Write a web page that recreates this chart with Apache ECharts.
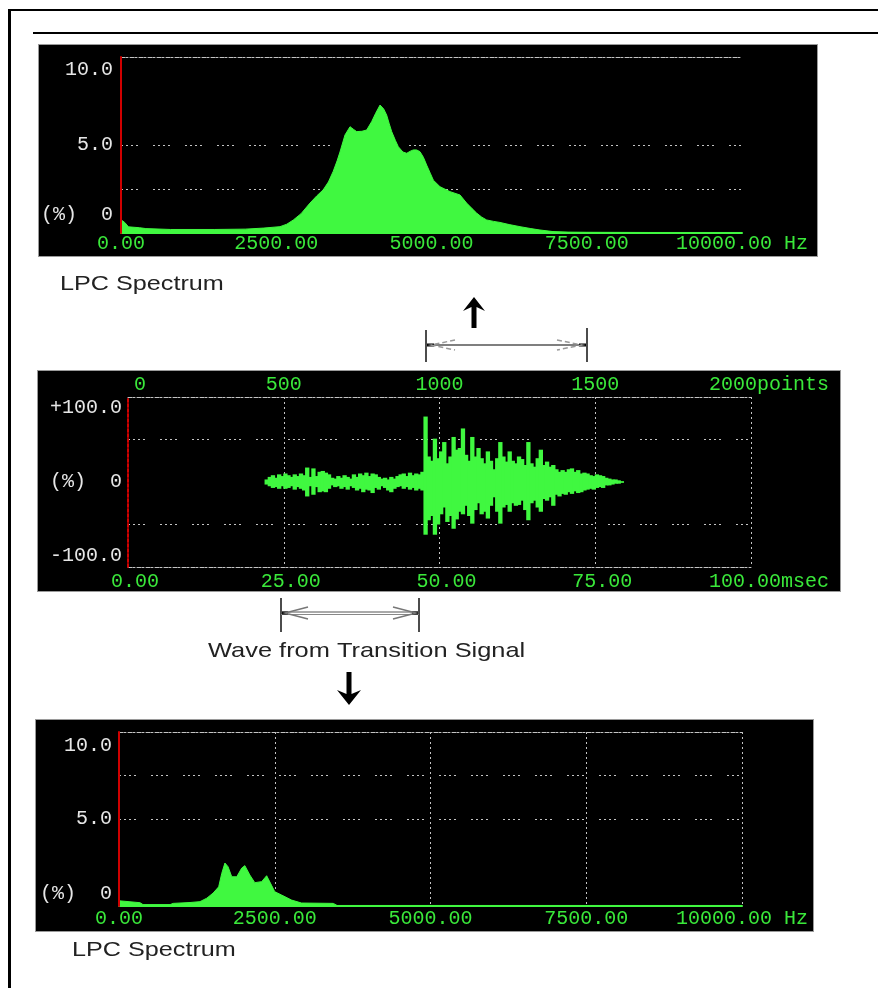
<!DOCTYPE html>
<html><head><meta charset="utf-8">
<script src="https://cdn.jsdelivr.net/npm/echarts@6/dist/echarts.min.js"></script>
<style>
html,body{margin:0;padding:0;background:#fff;}
#wrap{position:relative;width:878px;height:988px;overflow:hidden;background:#fff;}
.panel{position:absolute;background:#000;border:1px solid #9a9a9a;box-sizing:border-box;}
.bar{position:absolute;background:#000;}
#chart{position:absolute;left:0;top:0;width:878px;height:988px;}
</style></head><body>
<div id="wrap">
  <div class="bar" style="left:8px;top:9px;width:3px;height:990px"></div>
  <div class="bar" style="left:8px;top:9px;width:875px;height:2px"></div>
  <div class="bar" style="left:33px;top:32px;width:850px;height:2px"></div>
  <div class="panel" style="left:38px;top:44px;width:780px;height:213px"></div>
  <div class="panel" style="left:37px;top:370px;width:804px;height:222px"></div>
  <div class="panel" style="left:35px;top:719px;width:779px;height:213px"></div>
  <div id="chart"></div>
</div>
<script>
// ---------------- data ----------------
// upper LPC spectrum (frequency in Hz, level in %)
const topSpecHz  = [0,60,120,300,400,800,1500,2000,2300,2560,2670,2775,2900,3043,3150,3255,3340,3417,3480,3526,3607,3688,3740,3795,3880,3956,4037,4100,4171,4230,4278,4320,4359,4420,4466,4540,4601,4660,4707,4760,4815,4870,4922,4980,5030,5137,5298,5459,5566,5650,5727,5810,5888,6000,6103,6250,6425,6600,6747,6956,7200,7500,8500,10000];
const topSpecPct = [0.75,0.6,0.35,0.3,0.25,0.2,0.2,0.22,0.28,0.36,0.5,0.74,1.1,1.7,2.1,2.45,2.9,3.5,4.1,4.6,5.57,6.04,5.9,5.76,5.78,5.85,6.33,6.8,7.27,7.05,6.7,6.2,5.76,5.25,4.9,4.6,4.53,4.65,4.72,4.72,4.62,4.3,3.86,3.4,3.0,2.63,2.35,2.16,1.7,1.4,1.13,0.9,0.74,0.66,0.6,0.48,0.36,0.25,0.17,0.08,0.05,0.04,0.03,0.03];

// lower LPC spectrum
const botSpecHz  = [0,16,337,385,820,870,1140,1300,1410,1510,1600,1650,1700,1750,1810,1890,1970,2020,2100,2180,2290,2370,2430,2500,2610,2770,2930,3440,3500,10000];
const botSpecPct = [0.3,0.2,0.19,0.08,0.08,0.15,0.2,0.25,0.45,0.74,1.1,1.88,2.47,2.26,1.68,1.68,2.18,2.32,1.78,1.34,1.4,1.74,1.32,0.82,0.63,0.34,0.17,0.15,0.03,0.03];

// waveform envelope, one column every 0.5 ms starting at 22.0 ms (upper / lower %)
const waveStartMs = 22.0;
const waveStepMs = 0.5;
const waveHi = [3,6,8,5,9,7,10,8,6,9,7,10,8,17,6,16,7,12,13,11,9,5,4,7,5,8,6,4,9,6,10,8,11,7,10,9,6,4,5,3,6,4,7,9,10,7,11,8,10,9,12,
  77,30,25,51,28,36,47,22,30,53,38,40,63,32,25,53,30,40,28,22,36,25,15,28,47,30,24,36,25,22,30,27,20,47,22,18,28,38,20,24,18,20,15,12,14,12,15,16,12,14,10,11,10,8,7,9,8,7,5,4,3,3,2,1];
const waveLo = [-3,-5,-7,-6,-8,-5,-8,-7,-5,-9,-6,-8,-10,-17,-5,-15,-6,-12,-11,-12,-8,-4,-6,-5,-8,-6,-9,-5,-7,-10,-8,-12,-9,-10,-13,-7,-9,-5,-7,-10,-12,-8,-6,-5,-8,-6,-9,-7,-10,-8,-10,
  -62,-45,-40,-62,-50,-38,-30,-47,-40,-55,-44,-35,-38,-28,-40,-49,-33,-25,-38,-35,-43,-28,-18,-35,-49,-30,-27,-35,-25,-28,-27,-22,-33,-45,-25,-22,-30,-35,-20,-22,-18,-28,-15,-17,-14,-15,-12,-14,-11,-13,-12,-10,-9,-8,-9,-7,-6,-7,-4,-4,-3,-2,-2,-1];

// tick labels
const hzTickValues = [0,2500,5000,7500,10000];
const hzTickLabels = ['0.00','2500.00','5000.00','7500.00','10000.00 Hz'];
const msTickValues = [0,25,50,75,100];
const msTickLabels = ['0.00','25.00','50.00','75.00','100.00msec'];
const ptTickValues = [0,500,1000,1500,2000];
const ptTickLabels = ['0','500','1000','1500','2000points'];
const specYTickValues = [0,5,10];
const specYTickLabels = ['(%)  0','5.0','10.0'];
const waveYTickValues = [-100,0,100];
const waveYTickLabels = ['-100.0','(%)  0','+100.0'];

// ---------------- styles ----------------
const GREEN = '#40f840';
const LABEL_GREEN = '#3ae83a';
const GRID_GRAY = '#c4c4c4';
const RED = '#d00000';
const DENSE = [4,1,2,2];
const SPARSE = [2,3,2,3,2,3,2,15];
const DOT = [2,3];
const MONO = '"Liberation Mono","DejaVu Sans Mono",monospace';
const T = 'transparent';

function yRich(dn, up) {
  const base = {fontFamily: MONO, fontSize: 20, color: '#e6e6e6'};
  return {
    n: base,
    dn: Object.assign({}, base, {padding: [dn, 0, 0, 0]}),
    up: Object.assign({}, base, {padding: [0, 0, up, 0]})
  };
}
function yFmt(values, labels, shifts) {
  return function (v) {
    const i = values.indexOf(v);
    if (i < 0) return '';
    return '{' + (shifts[v] || 'n') + '|' + labels[i] + '}';
  };
}
function xFmt(values, labels, shifts) {
  return function (v) {
    const i = values.indexOf(v);
    if (i < 0) return '';
    return '{' + (shifts ? (shifts[v] || 'n') : 'n') + '|' + labels[i] + '}';
  };
}
function xRich(pn, pl) {
  const base = {fontFamily: MONO, fontSize: 20, color: LABEL_GREEN};
  return {
    n: Object.assign({}, base, {padding: [0, 0, 0, pn]}),
    l: Object.assign({}, base, {padding: [0, 0, 0, pl]})
  };
}
const noAxisBits = {axisTick: {show: false}, splitLine: {show: false}, axisLabel: {show: false}};

function borderX(grid, pos, min, max) {
  return Object.assign({gridIndex: grid, type: 'value', position: pos, min: min, max: max,
    axisLine: {show: true, onZero: false, lineStyle: {color: GRID_GRAY, width: 1, type: DENSE}}}, noAxisBits);
}
function redY(grid, min, max, dashed) {
  return Object.assign({gridIndex: grid, type: 'value', position: 'left', min: min, max: max, z: 10,
    axisLine: {show: true, onZero: false, lineStyle: {color: RED, width: 2, type: dashed ? [3, 2] : 'solid'}}}, noAxisBits);
}

const topData = topSpecHz.map((h, i) => [h, topSpecPct[i]]);
const botData = botSpecHz.map((h, i) => [h, botSpecPct[i]]);
const waveCols = waveHi.map((hi, i) => [waveStartMs + i * waveStepMs, waveLo[i], hi]);

const chart = echarts.init(document.getElementById('chart'), null, {renderer: 'canvas'});
const option = {
  animation: false,
  backgroundColor: 'transparent',
  grid: [
    {left: 121, top: 57, width: 621, height: 176, containLabel: false, outerBoundsMode: 'none'},
    {left: 128, top: 397, width: 623, height: 170, containLabel: false, outerBoundsMode: 'none'},
    {left: 119, top: 732, width: 623, height: 174, containLabel: false, outerBoundsMode: 'none'}
  ],
  xAxis: [
    {gridIndex: 0, type: 'value', position: 'bottom', min: 0, max: 10000, interval: 2500,
      axisLine: {show: true, onZero: false, lineStyle: {color: GREEN, width: 2}},
      axisTick: {show: false}, splitLine: {show: false},
      axisLabel: {show: true, margin: 1, showMinLabel: true, showMaxLabel: true,
        formatter: xFmt(hzTickValues, hzTickLabels), rich: xRich(0, 0)}},
    borderX(0, 'top', 0, 10000),
    {gridIndex: 1, type: 'value', position: 'bottom', min: 0, max: 100, interval: 25,
      axisLine: {show: true, onZero: false, lineStyle: {color: GRID_GRAY, width: 1, type: DENSE}},
      axisTick: {show: false},
      splitLine: {show: true, lineStyle: {color: [T, GRID_GRAY, GRID_GRAY, GRID_GRAY, GRID_GRAY], width: 1, type: DOT}},
      axisLabel: {show: true, margin: 5, showMinLabel: true, showMaxLabel: true,
        formatter: xFmt(msTickValues, msTickLabels, {100: 'l'}), rich: xRich(14, 36)}},
    {gridIndex: 1, type: 'value', position: 'top', min: 0, max: 2000, interval: 500,
      axisLine: {show: true, onZero: false, lineStyle: {color: GRID_GRAY, width: 1, type: DENSE}},
      axisTick: {show: false}, splitLine: {show: false},
      axisLabel: {show: true, margin: 2, showMinLabel: true, showMaxLabel: true,
        formatter: xFmt(ptTickValues, ptTickLabels, {2000: 'l', 0: 'f'}),
        rich: Object.assign(xRich(0, 36), {f: {fontFamily: MONO, fontSize: 20, color: LABEL_GREEN, padding: [0, 0, 0, 24]}})}},
    {gridIndex: 2, type: 'value', position: 'bottom', min: 0, max: 10000, interval: 2500,
      axisLine: {show: true, onZero: false, lineStyle: {color: GREEN, width: 2}},
      axisTick: {show: false},
      splitLine: {show: true, lineStyle: {color: [T, GRID_GRAY, GRID_GRAY, GRID_GRAY, GRID_GRAY], width: 1, type: DOT}},
      axisLabel: {show: true, margin: 3, showMinLabel: true, showMaxLabel: true,
        formatter: xFmt(hzTickValues, hzTickLabels), rich: xRich(0, 0)}},
    borderX(2, 'top', 0, 10000)
  ],
  yAxis: [
    {gridIndex: 0, type: 'value', position: 'left', min: 0, max: 10, interval: 2.5,
      axisLine: {show: false}, axisTick: {show: false},
      splitLine: {show: true, lineStyle: {color: [T, GRID_GRAY, GRID_GRAY, T, T], width: 1, type: SPARSE}},
      axisLabel: {show: true, margin: 8, showMinLabel: true, showMaxLabel: true,
        formatter: yFmt(specYTickValues, specYTickLabels, {10: 'dn', 0: 'up'}), rich: yRich(26, 36)}},
    redY(0, 0, 10, false),
    {gridIndex: 1, type: 'value', position: 'left', min: -100, max: 100, interval: 50,
      axisLine: {show: false}, axisTick: {show: false},
      splitLine: {show: true, lineStyle: {color: [T, GRID_GRAY, T, GRID_GRAY, T], width: 1, type: SPARSE}},
      axisLabel: {show: true, margin: 6, showMinLabel: true, showMaxLabel: true,
        formatter: yFmt(waveYTickValues, waveYTickLabels, {100: 'dn', '-100': 'up'}), rich: yRich(22, 22)}},
    redY(1, -100, 100, true),
    {gridIndex: 2, type: 'value', position: 'left', min: 0, max: 10, interval: 2.5,
      axisLine: {show: false}, axisTick: {show: false},
      splitLine: {show: true, lineStyle: {color: [T, T, GRID_GRAY, GRID_GRAY, T], width: 1, type: SPARSE}},
      axisLabel: {show: true, margin: 7, showMinLabel: true, showMaxLabel: true,
        formatter: yFmt(specYTickValues, specYTickLabels, {10: 'dn', 0: 'up'}), rich: yRich(28, 24)}},
    redY(2, 0, 10, false)
  ],
  series: [
    {type: 'line', xAxisIndex: 0, yAxisIndex: 0, data: topData, symbol: 'none', silent: true,
      lineStyle: {color: GREEN, width: 1}, areaStyle: {color: GREEN, opacity: 1}},
    {type: 'custom', xAxisIndex: 2, yAxisIndex: 2, data: waveCols, silent: true,
      encode: {x: 0, y: [1, 2]},
      renderItem: function (params, api) {
        const t = api.value(0), lo = api.value(1), hi = api.value(2);
        const a = api.coord([t, hi]);
        const b = api.coord([t + waveStepMs, lo]);
        return {type: 'rect', shape: {x: a[0] - 0.5, y: a[1], width: b[0] - a[0] + 1.2, height: b[1] - a[1]},
          style: {fill: GREEN, stroke: null}};
      }},
    {type: 'line', xAxisIndex: 4, yAxisIndex: 4, data: botData, symbol: 'none', silent: true,
      lineStyle: {color: GREEN, width: 1}, areaStyle: {color: GREEN, opacity: 1}}
  ],
  graphic: {elements: [
    {type: 'text', x: 60, y: 284.5, scaleX: 1.2, silent: true,
      style: {text: 'LPC Spectrum', font: '21px "Liberation Sans", Arial, sans-serif', fill: '#222', verticalAlign: 'middle'}},
    {type: 'text', x: 208, y: 651, scaleX: 1.21, silent: true,
      style: {text: 'Wave from Transition Signal', font: '21px "Liberation Sans", Arial, sans-serif', fill: '#222', verticalAlign: 'middle'}},
    {type: 'text', x: 72, y: 950.5, scaleX: 1.2, silent: true,
      style: {text: 'LPC Spectrum', font: '21px "Liberation Sans", Arial, sans-serif', fill: '#222', verticalAlign: 'middle'}},
    // up arrow
    {type: 'polygon', silent: true, shape: {points: [[474,297],[485,311],[476.5,307],[476.5,328],[471.5,328],[471.5,307],[463,311]]}, style: {fill: '#000'}},
    // down arrow
    {type: 'polygon', silent: true, shape: {points: [[349,705],[361,690],[351.5,694],[351.5,672],[346.5,672],[346.5,694],[337,690]]}, style: {fill: '#000'}},
    // upper bracket
    {type: 'line', silent: true, shape: {x1: 426, y1: 330, x2: 426, y2: 362}, style: {stroke: '#111', lineWidth: 1.5}},
    {type: 'line', silent: true, shape: {x1: 587, y1: 328, x2: 587, y2: 362}, style: {stroke: '#111', lineWidth: 1.5}},
    {type: 'line', silent: true, shape: {x1: 426, y1: 345, x2: 587, y2: 345}, style: {stroke: '#555', lineWidth: 1.5}},
    {type: 'line', silent: true, shape: {x1: 427, y1: 345, x2: 434, y2: 345}, style: {stroke: '#000', lineWidth: 3}},
    {type: 'line', silent: true, shape: {x1: 579, y1: 345, x2: 586, y2: 345}, style: {stroke: '#000', lineWidth: 3}},
    {type: 'polyline', silent: true, shape: {points: [[455,340],[431,345],[455,350]]}, style: {stroke: '#999', lineWidth: 1.5, lineDash: [5,3], fill: null}},
    {type: 'polyline', silent: true, shape: {points: [[557,340],[582,345],[557,350]]}, style: {stroke: '#999', lineWidth: 1.5, lineDash: [5,3], fill: null}},
    // lower bracket
    {type: 'line', silent: true, shape: {x1: 281, y1: 598, x2: 281, y2: 632}, style: {stroke: '#111', lineWidth: 1.5}},
    {type: 'line', silent: true, shape: {x1: 419, y1: 598, x2: 419, y2: 632}, style: {stroke: '#111', lineWidth: 1.5}},
    {type: 'line', silent: true, shape: {x1: 281, y1: 612, x2: 419, y2: 612}, style: {stroke: '#555', lineWidth: 1}},
    {type: 'line', silent: true, shape: {x1: 281, y1: 614.5, x2: 419, y2: 614.5}, style: {stroke: '#888', lineWidth: 1}},
    {type: 'line', silent: true, shape: {x1: 282, y1: 613, x2: 288, y2: 613}, style: {stroke: '#000', lineWidth: 3}},
    {type: 'line', silent: true, shape: {x1: 412, y1: 613, x2: 418, y2: 613}, style: {stroke: '#000', lineWidth: 3}},
    {type: 'polyline', silent: true, shape: {points: [[308,607],[285,613],[308,619]]}, style: {stroke: '#777', lineWidth: 1.5, fill: null}},
    {type: 'polyline', silent: true, shape: {points: [[393,607],[416,613],[393,619]]}, style: {stroke: '#777', lineWidth: 1.5, fill: null}}
  ]}
};
chart.setOption(option);
</script>
</body></html>
